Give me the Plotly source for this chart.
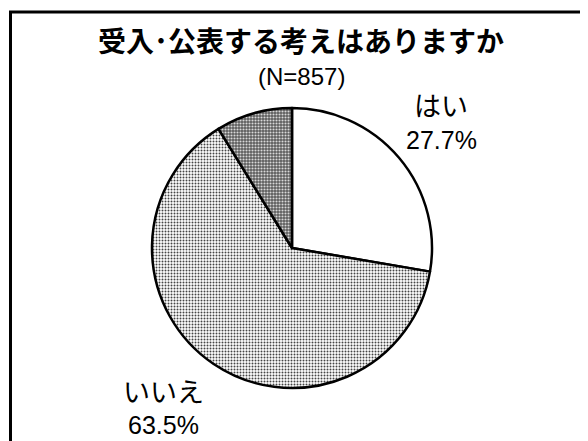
import plotly.graph_objects as go

title = "受入･公表する考えはありますか"
subtitle = "(N=857)"
labels = ["はい", "いいえ", "その他"]
values = [27.7, 63.5, 8.8]
show_label = [True, True, False]

W, H = 588, 441
OFF = 8  # page body margin offset


def px(x):
    return (x - OFF) / W


def py(y):
    return 1 - (y - OFF) / H


fig = go.Figure()
fig.add_trace(go.Pie(
    labels=labels,
    values=values,
    sort=False,
    direction="clockwise",
    rotation=0,
    textinfo="none",
    hoverinfo="label+percent",
    showlegend=False,
    domain=dict(x=[px(152), px(432)], y=[py(388), py(108)]),
    marker=dict(
        colors=["white", "white", "#6a6a6a"],
        line=dict(color="black", width=2.5),
        pattern=dict(
            shape=["", ".", "."],
            fgcolor=["black", "#444444", "#d8d8d8"],
            bgcolor=["white", "white", "#5c5c5c"],
            size=[3, 3, 3],
            solidity=[0.3, 0.35, 0.4],
            fillmode="replace",
        ),
    ),
))

jp = "Noto Sans CJK JP"
num = "Liberation Sans"


def note(x, y, text, family, size):
    fig.add_annotation(x=px(x), y=py(y), xref="paper", yref="paper", text=text,
                       xanchor="center", yanchor="middle", showarrow=False,
                       font=dict(family=family, size=size, color="black"))


note(301, 40, "<b>" + title + "</b>", jp, 28)
note(301, 76, subtitle, num, 24)

label_pos = [(441, 105, 140), (163, 390, 425), None]
for lab, val, show, pos in zip(labels, values, show_label, label_pos):
    if not show:
        continue
    x, y1, y2 = pos
    note(x, y1, lab, jp, 27)
    note(x, y2, f"{val:.1f}%", num, 25)

fig.add_shape(type="rect", xref="paper", yref="paper",
              x0=px(10.5), x1=px(620), y0=py(480), y1=py(12),
              line=dict(color="black", width=3), fillcolor="rgba(0,0,0,0)")

fig.update_layout(width=W, height=H, margin=dict(l=0, r=0, t=0, b=0),
                  paper_bgcolor="white", plot_bgcolor="white")

fig.write_html("out.html")
